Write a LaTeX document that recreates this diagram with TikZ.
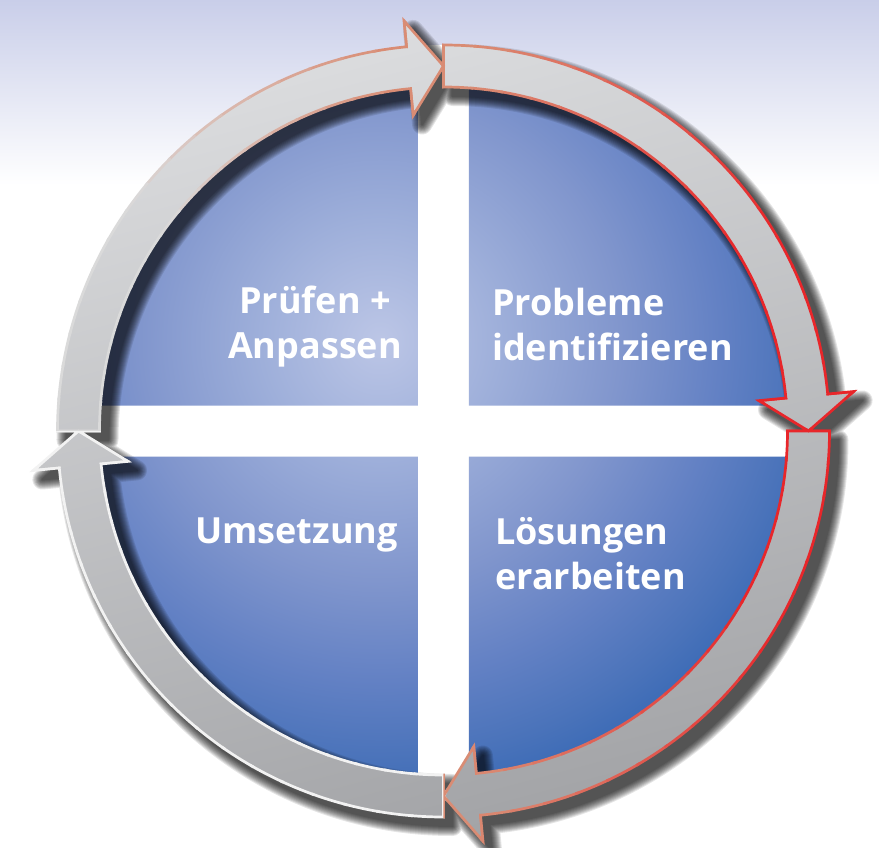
\documentclass[tikz,border=0pt]{standalone}
\usepackage{fontspec}
\newfontfamily\labelfont{Open Sans}
\usetikzlibrary{calc}

% palette
\definecolor{bgtop}{HTML}{C9CEE9}
\definecolor{bq0}{HTML}{BCC6E6}
\definecolor{bq1}{HTML}{9EAFDA}
\definecolor{bq2}{HTML}{8196CD}
\definecolor{bq3}{HTML}{6381C4}
\definecolor{bq4}{HTML}{4A73BA}
\definecolor{bq5}{HTML}{2E63B2}
\definecolor{ringtop}{HTML}{DCDDDF}
\definecolor{ringbot}{HTML}{A2A3A6}
\definecolor{edgered}{HTML}{E8262A}
\definecolor{edgesalmon}{HTML}{D98C74}
\definecolor{edgegray}{HTML}{DADADA}
\definecolor{edgelight}{HTML}{F2F2F2}

% soft light spot fading out to deep blue (25bp = 500pt on a 500pt circle)
\pgfdeclareradialshading{bluequad}{\pgfpoint{0bp}{0bp}}{%
  color(0bp)=(bq0); color(6bp)=(bq1); color(12bp)=(bq2);
  color(17bp)=(bq3); color(21bp)=(bq4); color(25bp)=(bq5); color(50bp)=(bq5)}

% one curved arrow of the cycle: starts at angle #1, runs 90 degrees clockwise
\newcommand\cyclearrow[1]{%
  (#1:386pt) arc[start angle=#1, end angle=#1-84.5, radius=386pt]
  -- (#1-84.5:412pt) -- (#1-90:365pt) -- (#1-84.5:317pt) -- (#1-84.5:344pt)
  arc[start angle=#1-84.5, end angle=#1, radius=344pt] -- cycle}
\newcommand\allarrows{\cyclearrow{90} \cyclearrow{0} \cyclearrow{-90} \cyclearrow{-180}}

\tikzset{
  lbl/.style={text=white, inner sep=0pt,
    font=\labelfont\bfseries\fontsize{36pt}{45pt}\selectfont},
}

\begin{document}
\begin{tikzpicture}[x=1pt, y=1pt]
  \useasboundingbox (-443.5pt,-416pt) rectangle (435.5pt,431pt);

  % page background: lavender fading into white
  \fill[white] (-443.5pt,-416pt) rectangle (435.5pt,431pt);
  \shade[top color=bgtop, bottom color=white]
    (-443.5pt,246pt) rectangle (435.5pt,431pt);

  % white disc behind the quadrants (shows as the cross)
  \fill[white] (0,0) circle (386pt);

  % four blue quadrants
  \begin{scope}
    \clip (0,0) circle (350pt);
    \clip (25.5pt,25.5pt) rectangle (400pt,400pt)
          (-25.5pt,25.5pt) rectangle (-400pt,400pt)
          (-25.5pt,-25.5pt) rectangle (-400pt,-400pt)
          (25.5pt,-25.5pt) rectangle (400pt,-400pt);
    \shade[shading=bluequad] (-63.5pt,91pt) circle (500pt);
  \end{scope}

  % soft drop shadow of the ring of arrows
  \begin{scope}[shift={(9pt,-9pt)}]
    \foreach \w in {2,4,...,20}{
      \begin{scope}[transparency group, opacity=0.1]
        \filldraw[black, line width=\w pt, line join=round] \allarrows;
      \end{scope}
    }
  \end{scope}

  % ring of arrows
  \shade[top color=ringtop, bottom color=ringbot, shading angle=15] \allarrows;

  % outline, coloured per sector:
  %   0..90    salmon at the top turning red towards the right
  %   270..360 red at the right turning salmon towards the bottom
  %   180..270 pale
  %   90..180  salmon at the top turning grey towards the left
  \foreach \a in {0,5,...,355}{
    \pgfmathsetmacro\c{\a+2.5}
    \ifdim\c pt<90pt
      \pgfmathtruncatemacro\ps{max(0,min(100,(\c-30)/55*100))}
      \colorlet{edgeb}{edgesalmon!\ps!edgered}
    \else\ifdim\c pt<180pt
      \pgfmathtruncatemacro\pg{max(0,min(100,(\c-98)/45*100))}
      \colorlet{edgeb}{edgegray!\pg!edgesalmon}
    \else\ifdim\c pt<270pt
      \colorlet{edgeb}{edgelight}
    \else
      \pgfmathtruncatemacro\ps{max(0,min(100,(330-\c)/55*100))}
      \colorlet{edgeb}{edgesalmon!\ps!edgered}
    \fi\fi\fi
    \begin{scope}
      \clip (0,0) -- (\a:460pt) arc[start angle=\a, end angle=\a+5.5, radius=460pt] -- cycle;
      \draw[edgeb, line width=2.7pt] \allarrows;
    \end{scope}
  }

  % labels (base anchor sits on the last line)
  \node[lbl, align=center, anchor=base] (pruefen) at (-128.5pt,73pt) {Prüfen +\\Anpassen};
  \node[lbl, align=left, anchor=base west] (probleme) at (48.5pt,71pt) {Probleme\\identifizieren};
  \node[lbl, anchor=base east] (umsetzung) at (-45.5pt,-112pt) {Umsetzung};
  \node[lbl, align=left, anchor=base west] (loesungen) at (51.5pt,-158pt) {Lösungen\\erarbeiten};
\end{tikzpicture}
\end{document}
